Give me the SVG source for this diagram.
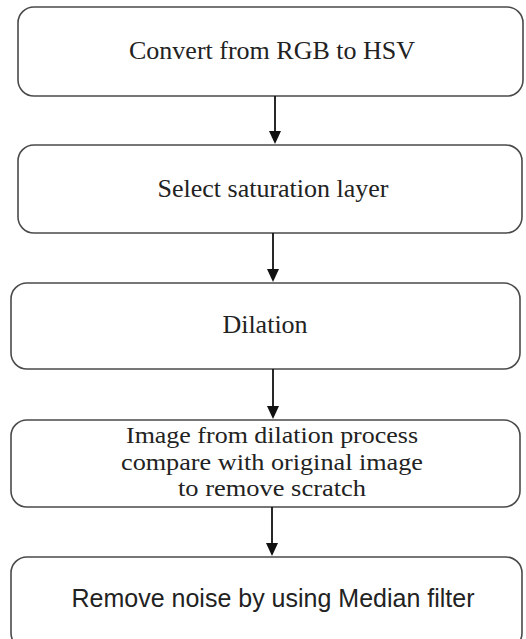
<svg xmlns="http://www.w3.org/2000/svg" width="526" height="639" viewBox="0 0 526 639">
  <style>
    .box { fill: #ffffff; stroke: #4a4a4a; stroke-width: 1.6; }
    .serif { font-family: "Liberation Serif", "Times New Roman", serif; font-size: 26px; fill: #222222; text-anchor: middle; }
    .serif-sm { font-family: "Liberation Serif", "Times New Roman", serif; font-size: 23px; fill: #222222; text-anchor: middle; }
    .sans { font-family: "Liberation Sans", Arial, sans-serif; font-size: 25px; fill: #222222; text-anchor: middle; }
    .conn { stroke: #111111; stroke-width: 1.8; fill: none; }
    .head { fill: #111111; }
  </style>
  <rect width="526" height="639" fill="#ffffff"/>

  <g id="node-convert">
    <rect class="box" x="18" y="7" width="505" height="89" rx="16" ry="16"/>
    <text class="serif" x="272" y="59">Convert from RGB to HSV</text>
  </g>
  <g id="node-select">
    <rect class="box" x="18" y="145" width="504" height="88" rx="16" ry="16"/>
    <text class="serif" x="273" y="197">Select saturation layer</text>
  </g>
  <g id="node-dilation">
    <rect class="box" x="11" y="283" width="509" height="86" rx="16" ry="16"/>
    <text class="serif" x="265" y="333">Dilation</text>
  </g>
  <g id="node-compare">
    <rect class="box" x="11" y="420" width="509" height="87" rx="16" ry="16"/>
    <text class="serif-sm" x="272" y="443" textLength="292" lengthAdjust="spacingAndGlyphs">Image from dilation process</text>
    <text class="serif-sm" x="272" y="470" textLength="302" lengthAdjust="spacingAndGlyphs">compare with original image</text>
    <text class="serif-sm" x="272" y="496" textLength="188" lengthAdjust="spacingAndGlyphs">to remove scratch</text>
  </g>
  <g id="node-median">
    <rect class="box" x="11" y="557" width="511" height="92" rx="16" ry="16"/>
    <text class="sans" x="273" y="607">Remove noise by using Median filter</text>
  </g>

  <g id="connectors">
    <line class="conn" x1="275" y1="96" x2="275" y2="132"/>
    <polygon class="head" points="269,131 281,131 275,144"/>
    <line class="conn" x1="273" y1="233" x2="273" y2="270"/>
    <polygon class="head" points="267,269 279,269 273,282"/>
    <line class="conn" x1="273" y1="369" x2="273" y2="407"/>
    <polygon class="head" points="267,406 279,406 273,419"/>
    <line class="conn" x1="272" y1="507" x2="272" y2="544"/>
    <polygon class="head" points="266,543 278,543 272,556"/>
  </g>
</svg>
